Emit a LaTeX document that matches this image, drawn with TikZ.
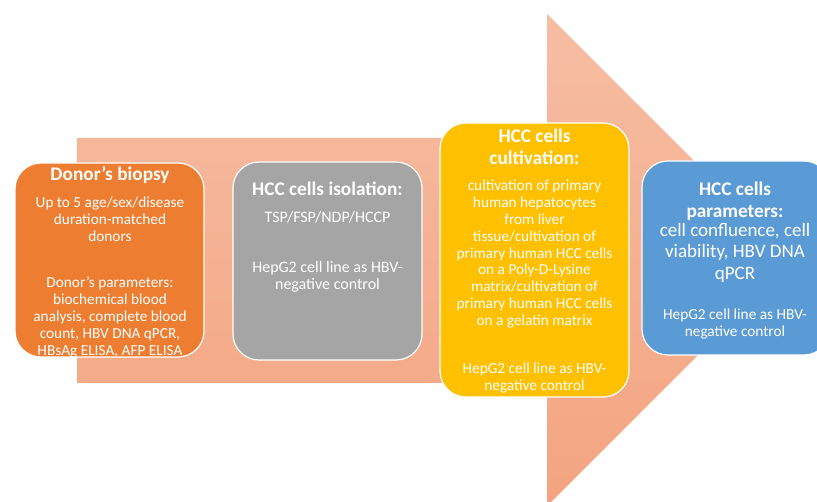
\documentclass[tikz,border=0pt]{standalone}
\usepackage{fontspec}
\setmainfont{Carlito}
\definecolor{boxorange}{HTML}{ED7D31}
\definecolor{boxgray}{HTML}{A5A5A5}
\definecolor{boxyellow}{HTML}{FFC000}
\definecolor{boxblue}{HTML}{5B9BD5}
\definecolor{arrowtop}{HTML}{F6BDA3}
\definecolor{arrowbot}{HTML}{F3A480}
\tikzset{
  card/.style={draw=white, line width=1.2pt, rounded corners=26pt, inner sep=0pt},
  ttl/.style={text=white, align=center, inner sep=0pt, anchor=north, font=\bfseries\fontsize{19.3}{21.5}\selectfont},
  bod/.style={text=white, align=center, inner sep=0pt, anchor=north, font=\fontsize{15.3}{16.8}\selectfont},
  grbod/.style={bod, font=\fontsize{16}{16.8}\selectfont},
  bigbod/.style={text=white, align=center, inner sep=0pt, anchor=north, font=\fontsize{19}{21.5}\selectfont},
}
\begin{document}
\begin{tikzpicture}[x=1pt,y=-1pt]
\useasboundingbox (0,0) rectangle (817,502);
% big arrow
\shade[top color=arrowtop, bottom color=arrowbot]
  (77,138) -- (547,138) -- (547,14) -- (793,260) -- (547,506) -- (547,383) -- (77,383) -- cycle;
% boxes
\path[card, fill=boxorange] (15,163) rectangle (204,357);
\path[card, fill=boxgray] (233,162) rectangle (422,360);
\path[card, fill=boxyellow] (440,123) rectangle (629,397);
\path[card, fill=boxblue] (642,161) rectangle (830,355);
% box 1
\node[ttl] (t1) at (110,166) {Donor’s biopsy};
\node[bod] (b1a) at (110,197) {Up to 5 age/sex/disease\\duration-matched\\donors};
\node[bod] (b1b) at (110,277) {Donor’s parameters:\\biochemical blood\\analysis, complete blood\\count, HBV DNA qPCR,\\HBsAg ELISA, AFP ELISA};
% box 2
\node[ttl] (t2) at (327.5,182) {HCC cells isolation:};
\node[grbod] (b2a) at (327.5,211) {TSP/FSP/NDP/HCCP};
\node[grbod] (b2b) at (327.5,261) {HepG2 cell line as HBV-\\negative control};
% box 3
\node[ttl] (t3) at (534.5,129) {HCC cells\\cultivation:};
\node[bod] (b3a) at (534.5,180) {cultivation of primary\\human hepatocytes\\from liver\\tissue/cultivation of\\primary human HCC cells\\on a Poly-D-Lysine\\matrix/cultivation of\\primary human HCC cells\\on a gelatin matrix};
\node[bod] (b3b) at (534.5,363) {HepG2 cell line as HBV-\\negative control};
% box 4
\node[ttl] (t4) at (735,182) {HCC cells\\parameters:};
\node[bigbod] (b4a) at (735,223) {cell confluence, cell\\viability, HBV DNA\\qPCR};
\node[bod] (b4b) at (735,309) {HepG2 cell line as HBV-\\negative control};
\end{tikzpicture}
\end{document}
